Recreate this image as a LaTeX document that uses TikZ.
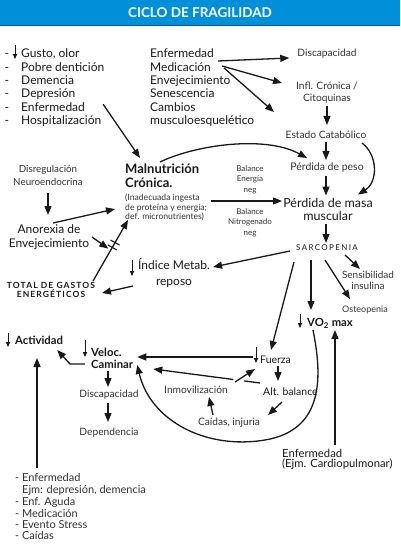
\documentclass[tikz,border=0pt]{standalone}
\usepackage{fontspec}
\setmainfont{Lato}
\usetikzlibrary{arrows.meta,calc}
\definecolor{hdr}{RGB}{0,144,218}
\definecolor{hdrdark}{RGB}{0,92,150}
\definecolor{ink}{RGB}{25,25,25}
\definecolor{soft}{RGB}{50,50,50}
\tikzset{
  arr/.style={draw=ink, line width=1.3pt, -{Triangle[length=9pt,width=7pt]}},
  plainline/.style={draw=ink, line width=1.3pt},
  dnmark/.style={draw=ink, line width=1pt, -{Triangle[length=5pt,width=4.2pt]}},
  txt/.style={inner sep=0pt, text=ink, font=\fontsize{12}{13.3}\selectfont},
  btxt/.style={inner sep=0pt, text=ink, font=\bfseries\fontsize{11.3}{12}\selectfont},
  ltxt/.style={inner sep=0pt, text=soft, align=center, font=\fontsize{10.2}{12}\selectfont},
  stxt/.style={inner sep=0pt, text=soft, align=center, font=\fontsize{8}{10.5}\selectfont},
}
\begin{document}
\begin{tikzpicture}[x=1pt,y=-1pt]
\useasboundingbox (0,0) rectangle (400,556);
% header
\fill[hdr] (0,0) rectangle (400,25);
\draw[hdrdark, line width=1.2pt] (0,25.4) -- (400,25.4);
\node[inner sep=0pt, text=white, font=\bfseries\fontsize{13.5}{14}\selectfont] (title) at (200,12.5) {CICLO DE FRAGILIDAD};

% left list
\node[txt, anchor=base west] (g1) at (21,58) {\llap{-\hspace{12pt}}Gusto, olor};
\node[txt, anchor=base west] (g2) at (21,71.3) {\llap{-\hspace{12pt}}Pobre dentición};
\node[txt, anchor=base west] (g3) at (21,84.6) {\llap{-\hspace{12pt}}Demencia};
\node[txt, anchor=base west] (g4) at (21,97.9) {\llap{-\hspace{12pt}}Depresión};
\node[txt, anchor=base west] (g5) at (21,111.2) {\llap{-\hspace{12pt}}Enfermedad};
\node[txt, anchor=base west] (g6) at (21,124.5) {\llap{-\hspace{12pt}}Hospitalización};
\draw[dnmark] (15,45) -- (15,59);

% middle list
\node[txt, anchor=base west] (m1) at (150,58) {Enfermedad};
\node[txt, anchor=base west] (m2) at (150,71.3) {Medicación};
\node[txt, anchor=base west] (m3) at (150,84.6) {Envejecimiento};
\node[txt, anchor=base west] (m4) at (150,97.9) {Senescencia};
\node[txt, anchor=base west] (m5) at (150,111.2) {Cambios};
\node[txt, anchor=base west] (m6) at (150,124.5) {musculoesquelético};

% top right
\node[ltxt] (disc1) at (327,54) {Discapacidad};
\node[ltxt] (infl) at (327,93) {Infl. Crónica /\\Citoquinas};
\node[ltxt] (estado) at (326,135) {Estado Catabólico};
\node[ltxt, font=\fontsize{10.5}{12}\selectfont] (peso) at (327,168) {Pérdida de peso};
\node[inner sep=0pt, text=ink, align=center, font=\fontsize{12.5}{13}\selectfont] (masa) at (328,209.5) {Pérdida de masa\\muscular};
\node[stxt] (balE) at (250,179.5) {Balance\\Energía\\neg};
\node[stxt] (balN) at (250,222.5) {Balance\\Nitrogenado\\neg};
\node[inner sep=0pt, text=ink, font=\fontsize{8}{10}\selectfont\addfontfeature{LetterSpace=17}] (sarc) at (327,248) {SARCOPENIA};
\node[ltxt, font=\fontsize{10}{11}\selectfont] (sens) at (368,280.5) {Sensibilidad\\insulina};
\node[stxt, font=\fontsize{9}{10}\selectfont] (osteo) at (365,310) {Osteopenia};
\node[btxt, anchor=base west] (vo2) at (307,326) {VO\textsubscript{2} max};
\draw[dnmark] (300,314) -- (300,328);
\node[txt, anchor=base west, font=\fontsize{11.3}{12}\selectfont] (ec1) at (282,457) {Enfermedad};
\node[txt, anchor=base west, font=\fontsize{11.3}{12}\selectfont] (ec2) at (282,467) {(Ejm. Cardiopulmonar)};

% malnutricion
\node[btxt, anchor=base west, font=\bfseries\fontsize{13}{13}\selectfont] (mal1) at (125,174) {Malnutrición};
\node[btxt, anchor=base west, font=\bfseries\fontsize{13}{13}\selectfont] (mal2) at (125,187) {Crónica.};
\node[stxt, anchor=base west, font=\fontsize{8.6}{10}\selectfont] (mal3) at (125,200) {(Inadecuada ingesta};
\node[stxt, anchor=base west, font=\fontsize{8.6}{10}\selectfont] (mal4) at (125,210) {de proteína y energía;};
\node[stxt, anchor=base west, font=\fontsize{8.6}{10}\selectfont] (mal5) at (125,219) {def. micronutrientes)};

% left middle
\node[ltxt, font=\fontsize{9.8}{13}\selectfont] (dr) at (48,175) {Disregulación\\Neuroendocrina};
\node[inner sep=0pt, text=ink, align=center, font=\fontsize{12}{14}\selectfont] (an) at (49,237) {Anorexia de\\Envejecimiento};
\node[inner sep=0pt, text=ink, align=center, font=\bfseries\fontsize{8.5}{9.5}\selectfont\addfontfeature{LetterSpace=13}] (tot) at (51,290) {TOTAL DE GASTOS\\ENERGÉTICOS};
\node[txt, anchor=base west, font=\fontsize{12}{13}\selectfont] (ind1) at (138,269) {Índice Metab.};
\node[txt, anchor=base, font=\fontsize{12}{13}\selectfont] (ind2) at (174,285) {reposo};
\draw[dnmark] (132,260) -- (132,276);

% bottom left
\node[btxt, anchor=base west] (act) at (15,344) {Actividad};
\draw[dnmark] (8,333) -- (8,347);
\node[btxt, anchor=base west, font=\bfseries\fontsize{11.3}{12}\selectfont] (vc1) at (91,356) {Veloc.};
\node[btxt, anchor=base west, font=\bfseries\fontsize{11.3}{12}\selectfont] (vc2) at (91,368) {Caminar};
\draw[dnmark] (85,340) -- (85,357);
\node[ltxt] (disc2) at (109,395) {Discapacidad};
\node[ltxt] (dep) at (109,433) {Dependencia};

% lower middle
\node[txt, anchor=base west, font=\fontsize{10.5}{12}\selectfont] (fz) at (260,363) {Fuerza};
\draw[dnmark] (256,347) -- (256,363);
\node[txt, anchor=base west, font=\fontsize{10.5}{12}\selectfont] (ab) at (263,395) {Alt. balance};
\node[ltxt] (ci) at (229,423) {Caídas, injuria};
\node[ltxt] (im) at (196,390) {Inmovilización};

% bottom list
\node[ltxt, anchor=base west, font=\fontsize{11}{12}\selectfont] (b1) at (15,481) {- Enfermedad};
\node[ltxt, anchor=base west, font=\fontsize{11}{12}\selectfont] (b2) at (22,493) {Ejm: depresión, demencia};
\node[ltxt, anchor=base west, font=\fontsize{11}{12}\selectfont] (b3) at (15,505) {- Enf. Aguda};
\node[ltxt, anchor=base west, font=\fontsize{11}{12}\selectfont] (b4) at (15,517) {- Medicación};
\node[ltxt, anchor=base west, font=\fontsize{11}{12}\selectfont] (b5) at (15,528) {- Evento Stress};
\node[ltxt, anchor=base west, font=\fontsize{11}{12}\selectfont] (b6) at (15,539) {- Caídas};

% ---------------- connectors
\draw[arr] ($(m1.base east)+(4,3)$) -- ($(disc1.west)+(-8,4)$);
\draw[arr] ($(m1.base east)+(8,8)$) -- ($(infl.center)+(-45,-10)$);
\draw[arr] ($(m1.base east)+(10,10)$) -- ($(estado.center)+(-52,-23)$);
\draw[arr] ($(g5.base east)+(18,-7)$) -- ($(mal1.base west)+(15,-16)$);
\draw[arr] ($(infl.center)+(0,13)$) -- ($(estado.center)+(1,-10)$);
\draw[arr] ($(estado.center)+(0,7)$) -- ($(peso.center)+(-1,-8)$);
\draw[arr] ($(estado.center)+(36,8)$) .. controls (378,155) and (378,182) .. ($(masa.center)+(30,-15)$);
\draw[arr] ($(mal1.base west)+(35,-12)$) .. controls (195,145) and (265,135) .. ($(peso.center)+(-20,-10)$);
\draw[arr] ($(peso.center)+(-1,8)$) -- ($(masa.center)+(-2,-14)$);
\draw[arr] ($(mal4.base east)+(4,-9)$) -- ($(masa.center)+(-46,-8.5)$);
\draw[arr] ($(masa.center)+(-2,14.5)$) -- ($(sarc.center)+(-1,-5)$);
\draw[arr] ($(sarc.center)+(18,7)$) -- ($(sens.center)+(-8,-11.5)$);
\draw[arr] ($(sarc.center)+(-2,12)$) -- ($(osteo.center)+(-15,-11)$);
\draw[arr] ($(sarc.center)+(-16,12)$) -- ($(vo2.base west)+(4,-16)$);
\draw[arr] ($(sarc.center)+(-33,14)$) -- ($(fz.base west)+(11,-13)$);
\draw[arr] ($(sarc.center)+(-37,3)$) -- ($(ind1.base east)+(3,-2)$);
\draw[arr] ($(ind1.base west)+(-5,17)$) -- ($(tot.center)+(51,3)$);
% blocked arrow from total de gastos to malnutricion
\coordinate (tS) at ($(tot.center)+(42,-9)$);
\coordinate (tE) at ($(mal5.base west)+(3,1)$);
\coordinate (blk) at ($(tS)!0.58!(tE)$);
\draw[arr] (tS) -- (tE);
\draw[plainline, line width=1.1pt] ($(tS)!0.55!(tE)+(-4.5,-2.5)$) -- ($(tS)!0.55!(tE)+(4.5,2.5)$);
\draw[plainline, line width=1.1pt] ($(tS)!0.63!(tE)+(-4.5,-2.5)$) -- ($(tS)!0.63!(tE)+(4.5,2.5)$);
\draw[arr] ($(an.center)+(43,0)$) -- ($(blk)+(-5,3)$);
\draw[arr] ($(an.center)+(4,-14)$) -- ($(mal4.base west)+(-10,-1)$);
\draw[arr] ($(dr.center)+(0,18)$) -- ($(an.center)+(-1,-22)$);
% lower part
\draw[arr] ($(fz.base west)+(-7,-6)$) -- ($(vc2.base east)+(4,-11)$);
\coordinate (aS) at ($(ab.base west)+(-3,-12)$);
\coordinate (aE) at ($(vc2.base east)+(20,1)$);
\draw[plainline] (aS) -- ($(aS)!0.15!(aE)$);
\draw[arr] ($(aS)!0.25!(aE)$) -- (aE);
\draw[arr] ($(im.center)+(39,-8)$) -- ($(fz.base west)+(-5,6)$);
\draw[arr] ($(fz.base west)+(18,3)$) -- ($(ab.base west)+(15,-14)$);
\draw[arr] ($(ab.base west)+(19,7)$) -- ($(ci.center)+(39,-8)$);
\draw[arr] ($(ci.center)+(-16,-8)$) -- ($(im.center)+(13,7)$);
\draw[arr] ($(vo2.base west)+(6,4)$) .. controls (322,375) and (325,430) .. (265,440) .. controls (205,450) and (150,420) .. ($(vc2.base east)+(4,-3)$);
\draw[arr] ($(vc2.base west)+(-6,-4)$) -- ($(vc2.base west)+(-21,-4)$) -- ($(act.base east)+(-6,6)$);
\draw[arr] ($(vc2.base west)+(17,3)$) -- ($(disc2.center)+(-1,-8)$);
\draw[arr] ($(disc2.center)+(-1,8)$) -- ($(dep.center)+(-1,-11)$);
\draw[arr] ($(b1.base west)+(22,-13)$) -- ($(act.base west)+(22,14)$);
\draw[arr] ($(ec1.base west)+(53,-12)$) -- ($(vo2.base west)+(28,4)$);
\end{tikzpicture}
\end{document}
